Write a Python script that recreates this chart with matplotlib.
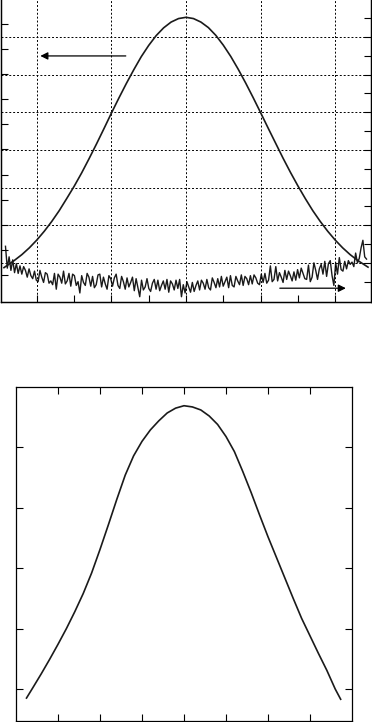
import numpy as np
import matplotlib
matplotlib.use('Agg')
import matplotlib.pyplot as plt

# top panel: smooth peak (left axis), read every 0.1 along x
top_x = [-2.44, -2.3, -2.2, -2.1, -2.0, -1.9, -1.8, -1.7, -1.6, -1.5, -1.4, -1.3, -1.2, -1.1,
         -1.0, -0.9, -0.8, -0.7, -0.6, -0.5, -0.4, -0.3, -0.2, -0.1, 0.0,
         0.1, 0.2, 0.3, 0.4, 0.5, 0.6, 0.7, 0.8, 0.9, 1.0, 1.1, 1.2, 1.3, 1.4,
         1.5, 1.6, 1.7, 1.8, 1.9, 2.0, 2.1, 2.2, 2.3, 2.44]
top_y = [1.29, 1.58, 1.81, 2.08, 2.39, 2.74, 3.13, 3.56, 4.04, 4.53, 5.06, 5.63, 6.22, 6.83,
         7.45, 8.05, 8.63, 9.18, 9.70, 10.15, 10.54, 10.85, 11.08, 11.22, 11.27,
         11.22, 11.08, 10.86, 10.55, 10.16, 9.71, 9.20, 8.65, 8.07, 7.47, 6.86, 6.26, 5.66, 5.09,
         4.55, 4.04, 3.56, 3.13, 2.74, 2.39, 2.08, 1.81, 1.58, 1.31]

# top panel: noisy trace (right axis), samples evenly spread across the plot
noise_y = [1.44, 0.86, 1.16, 0.80, 1.08, 0.74, 0.98, 0.72, 0.92, 0.70,
           0.90, 0.80, 0.62, 0.84, 0.66, 0.58, 0.78, 0.54, 0.50, 0.80,
           0.62, 0.48, 0.74, 0.70, 0.46, 0.52, 0.42, 0.72, 0.30, 0.70,
           0.62, 0.46, 0.78, 0.44, 0.52, 0.72, 0.38, 0.70, 0.66, 0.40,
           0.50, 0.20, 0.66, 0.48, 0.40, 0.72, 0.62, 0.38, 0.64, 0.34,
           0.42, 0.68, 0.70, 0.36, 0.62, 0.44, 0.30, 0.66, 0.58, 0.38,
           0.60, 0.70, 0.40, 0.32, 0.64, 0.50, 0.30, 0.60, 0.36, 0.48,
           0.62, 0.26, 0.58, 0.34, 0.10, 0.54, 0.28, 0.36, 0.58, 0.32,
           0.24, 0.46, 0.56, 0.30, 0.54, 0.26, 0.40, 0.52, 0.30, 0.56,
           0.22, 0.52, 0.44, 0.28, 0.54, 0.32, 0.56, 0.10, 0.42, 0.20,
           0.50, 0.36, 0.22, 0.48, 0.24, 0.40, 0.52, 0.28, 0.54, 0.46,
           0.30, 0.56, 0.34, 0.28, 0.60, 0.48, 0.34, 0.58, 0.36, 0.64,
           0.38, 0.50, 0.62, 0.34, 0.66, 0.40, 0.36, 0.64, 0.52, 0.42,
           0.68, 0.40, 0.64, 0.58, 0.42, 0.66, 0.44, 0.68, 0.60, 0.46,
           0.42, 0.70, 0.48, 0.72, 0.46, 0.54, 0.92, 0.50, 0.56, 0.90,
           0.52, 0.74, 0.62, 0.48, 0.80, 0.56, 0.78, 0.66, 0.52, 0.76,
           0.54, 0.82, 0.60, 0.86, 0.72, 0.58, 0.56, 0.94, 0.50, 0.62,
           1.00, 0.80, 0.56, 0.84, 0.96, 0.70, 1.04, 0.64, 0.98, 1.06,
           0.66, 0.40, 1.00, 0.70, 1.14, 0.82, 0.78, 1.04, 0.84, 1.06,
           0.96, 1.02, 0.90, 1.26, 1.00, 1.12, 1.40, 1.60, 1.16, 1.10]
noise_x = np.linspace(-2.42, 2.42, len(noise_y))

# bottom panel
bot_x = [-3.75, -3.6, -3.4, -3.2, -3.0, -2.8, -2.6, -2.4, -2.2, -2.0, -1.8, -1.6, -1.4, -1.2,
         -1.0, -0.8, -0.6, -0.4, -0.2, 0.0, 0.2, 0.4, 0.6, 0.8, 1.0, 1.2, 1.4, 1.6, 1.8,
         2.0, 2.2, 2.4, 2.6, 2.8, 3.0, 3.2, 3.4, 3.6, 3.73]
bot_y = [-0.15, 0.02, 0.25, 0.49, 0.74, 1.00, 1.28, 1.58, 1.92, 2.31, 2.72, 3.14, 3.54, 3.86,
         4.10, 4.29, 4.44, 4.57, 4.65, 4.69, 4.67, 4.62, 4.52, 4.38, 4.18, 3.93, 3.60, 3.25, 2.88,
         2.52, 2.18, 1.84, 1.50, 1.17, 0.88, 0.59, 0.31, 0.00, -0.17]

W, H = 372, 722
fig = plt.figure(figsize=(W / 100, H / 100), dpi=100)

tick_kw = dict(direction='in', length=5, width=0.8, labelleft=False, labelbottom=False,
               labelright=False, labeltop=False)
ink = '#1a1a1a'

# ---- top panel
ax = fig.add_axes([1 / W, (H - 302) / H, 370 / W, 303 / H])
ax.plot(top_x, top_y, color=ink, lw=1.2)
ax.set_xlim(-2.48, 2.48)
ax.set_ylim(-0.08, 12.0)
ax.set_xticks([-2, -1, 0, 1, 2])
ax.set_xticks([-1.5, -0.5, 0.5, 1.5], minor=True)
ax.set_yticks(range(1, 12))
ax.tick_params(which='both', left=True, right=False, top=False, bottom=True, **tick_kw)
ax.spines['top'].set_visible(False)
for s in ax.spines.values():
    s.set_linewidth(0.9)
ax.grid(axis='x', which='major', color='black', ls=(0, (2, 2)), lw=0.7)

ax2 = ax.twinx()
ax2.plot(noise_x, noise_y, color=ink, lw=1.0)
ax2.set_ylim(-0.04, 8.01)
ax2.set_yticks(range(1, 8))
ax2.set_yticks(np.arange(0.5, 8, 1.0), minor=True)
ax2.tick_params(which='both', left=False, right=True, top=False, bottom=False, **tick_kw)
ax2.spines['top'].set_visible(False)
for s in ax2.spines.values():
    s.set_linewidth(0.9)
ax2.grid(axis='y', which='major', color='black', ls=(0, (2, 2)), lw=0.7)
ax2.set_zorder(ax.get_zorder() - 1)
ax.patch.set_visible(False)

arr = dict(arrowstyle='-|>', color='black', lw=0.9, mutation_scale=11)
ax.annotate('', xy=(-1.99, 9.73), xytext=(-0.77, 9.73), arrowprops=arr)
ax.annotate('', xy=(2.18, 0.47), xytext=(1.22, 0.47), arrowprops=arr)

# ---- bottom panel
bx = fig.add_axes([16 / W, 1 / H, 336 / W, 334 / H])
bx.plot(bot_x, bot_y, color=ink, lw=1.2)
bx.set_xlim(-4, 4)
bx.set_ylim(-0.53, 5.0)
bx.set_xticks(range(-3, 4))
bx.set_yticks(range(0, 5))
bx.tick_params(left=True, right=True, top=True, bottom=True, **tick_kw)
for s in bx.spines.values():
    s.set_linewidth(0.9)

fig.savefig('out.png', dpi=100)
